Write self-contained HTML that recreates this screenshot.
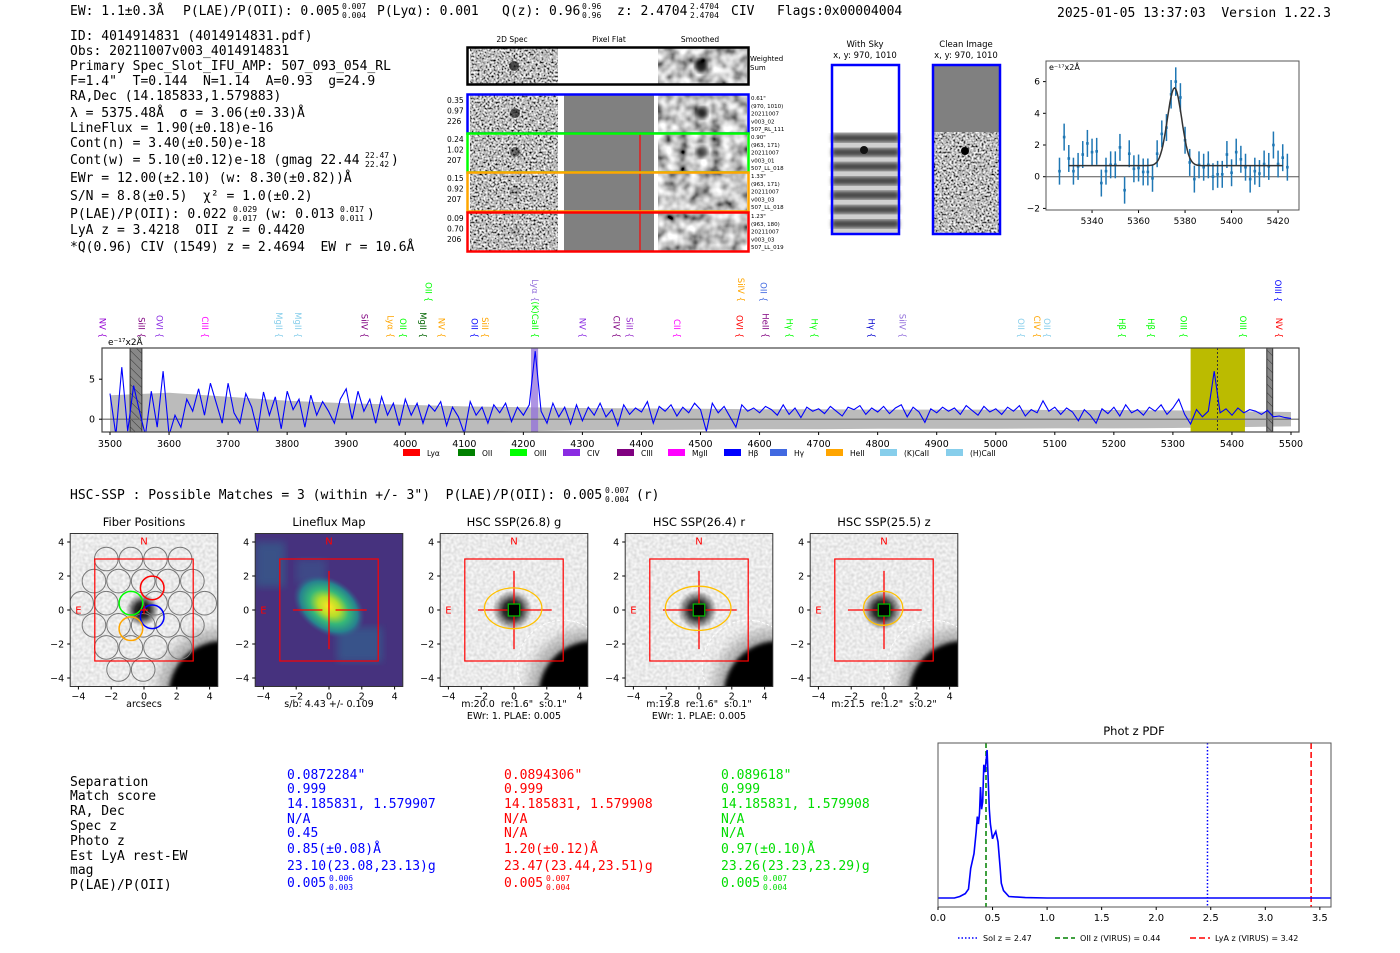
<!DOCTYPE html>
<html><head><meta charset="utf-8">
<style>
html,body{margin:0;padding:0;background:#fff;}
svg{display:block;}
text{white-space:pre;}
.mono{font-family:"DejaVu Sans Mono","Liberation Mono",monospace;font-size:13px;fill:#000;}
.mono[font-size="8"]{font-size:8px;}
.sans{font-family:"DejaVu Sans","Liberation Sans",sans-serif;}
</style></head>
<body>
<svg id="fig" xmlns="http://www.w3.org/2000/svg" xml:space="preserve" width="1400" height="953" viewBox="0 0 1400 953">
<defs>
<filter id="grayNoise" x="0" y="0" width="100%" height="100%">
 <feTurbulence type="fractalNoise" baseFrequency="0.5" numOctaves="2" seed="7" result="t"/>
 <feColorMatrix in="t" type="matrix" values="2.2 0 0 0 -0.6  2.2 0 0 0 -0.6  2.2 0 0 0 -0.6  0 0 0 0 1"/>
</filter>
<filter id="smoothNoise" x="0" y="0" width="100%" height="100%">
 <feTurbulence type="fractalNoise" baseFrequency="0.09" numOctaves="2" seed="11" result="t"/>
 <feColorMatrix in="t" type="matrix" values="1.6 0 0 0 -0.25  1.6 0 0 0 -0.25  1.6 0 0 0 -0.25  0 0 0 0 1"/>
</filter>
<filter id="lightNoise" x="0" y="0" width="100%" height="100%">
 <feTurbulence type="fractalNoise" baseFrequency="0.35" numOctaves="1" seed="5" result="t"/>
 <feColorMatrix in="t" type="matrix" values="0.45 0 0 0 0.6  0.45 0 0 0 0.6  0.45 0 0 0 0.6  0 0 0 0 1"/>
</filter>
<filter id="blur2"><feGaussianBlur stdDeviation="2"/></filter>
<filter id="blur4"><feGaussianBlur stdDeviation="4"/></filter>
<filter id="blur6"><feGaussianBlur stdDeviation="6"/></filter>
<radialGradient id="blob" cx="0.5" cy="0.5" r="0.5">
 <stop offset="0" stop-color="#000" stop-opacity="1"/>
 <stop offset="0.45" stop-color="#000" stop-opacity="0.8"/>
 <stop offset="1" stop-color="#000" stop-opacity="0"/>
</radialGradient>
<radialGradient id="lfblob" cx="0.5" cy="0.5" r="0.5">
 <stop offset="0" stop-color="#fde725"/>
 <stop offset="0.3" stop-color="#b5de2b"/>
 <stop offset="0.55" stop-color="#35b779"/>
 <stop offset="0.8" stop-color="#26828e"/>
 <stop offset="1" stop-color="#3b528b" stop-opacity="0"/>
</radialGradient>
<pattern id="hatch" width="6" height="6" patternUnits="userSpaceOnUse" patternTransform="rotate(-45)">
 <rect width="6" height="6" fill="#888"/><line x1="0" y1="0" x2="0" y2="6" stroke="#333" stroke-width="1"/>
</pattern>
</defs>

<g>
<text class="mono" x="70" y="15">EW: 1.1±0.3Å</text>
<text class="mono" x="183" y="15">P(LAE)/P(OII): 0.005</text>
<text class="mono" x="342" y="9" font-size="8">0.007</text><text class="mono" x="342" y="18" font-size="8">0.004</text>
<text class="mono" x="377" y="15">P(Lyα): 0.001</text>
<text class="mono" x="502" y="15">Q(z): 0.96</text>
<text class="mono" x="582" y="9" font-size="8">0.96</text><text class="mono" x="582" y="18" font-size="8">0.96</text>
<text class="mono" x="617" y="15">z: 2.4704</text>
<text class="mono" x="690" y="9" font-size="8">2.4704</text><text class="mono" x="690" y="18" font-size="8">2.4704</text>
<text class="mono" x="731" y="15">CIV</text>
<text class="mono" x="777" y="15">Flags:0x00004004</text>
<text class="mono" x="1057" y="17">2025-01-05 13:37:03  Version 1.22.3</text>
</g>

<g>
<text class="mono" x="70" y="40">ID: 4014914831 (4014914831.pdf)</text>
<text class="mono" x="70" y="55">Obs: 20211007v003_4014914831</text>
<text class="mono" x="70" y="70">Primary Spec_Slot_IFU_AMP: 507_093_054_RL</text>
<text class="mono" x="70" y="85">F=1.4"  T=0.144  N=1.14  A=0.93  g=24.9</text>
<text class="mono" x="70" y="100">RA,Dec (14.185833,1.579883)</text>
<text class="mono" x="70" y="117">λ = 5375.48Å  σ = 3.06(±0.33)Å</text>
<text class="mono" x="70" y="132">LineFlux = 1.90(±0.18)e-16</text>
<text class="mono" x="70" y="147">Cont(n) = 3.40(±0.50)e-18</text>
<text class="mono" x="70" y="164">Cont(w) = 5.10(±0.12)e-18 (gmag 22.44</text>
<text class="mono" x="365" y="158" font-size="8">22.47</text><text class="mono" x="365" y="167" font-size="8">22.42</text>
<text class="mono" x="391" y="164">)</text>
<text class="mono" x="70" y="182">EWr = 12.00(±2.10) (w: 8.30(±0.82))Å</text>
<text class="mono" x="70" y="200">S/N = 8.8(±0.5)  χ² = 1.0(±0.2)</text>
<text class="mono" x="70" y="218">P(LAE)/P(OII): 0.022</text>
<text class="mono" x="233" y="212" font-size="8">0.029</text><text class="mono" x="233" y="221" font-size="8">0.017</text>
<text class="mono" x="264" y="218">(w: 0.013</text>
<text class="mono" x="340" y="212" font-size="8">0.017</text><text class="mono" x="340" y="221" font-size="8">0.011</text>
<text class="mono" x="367" y="218">)</text>
<text class="mono" x="70" y="234">LyA z = 3.4218  OII z = 0.4420</text>
<text class="mono" x="70" y="251">*Q(0.96) CIV (1549) z = 2.4694  EW r = 10.6Å</text>
</g>

<g class="sans">
<text x="512" y="42" font-size="7.5" text-anchor="middle">2D Spec</text>
<text x="609" y="42" font-size="7.5" text-anchor="middle">Pixel Flat</text>
<text x="700" y="42" font-size="7.5" text-anchor="middle">Smoothed</text>
<g>
 <rect x="470" y="48" width="88" height="36" filter="url(#grayNoise)"/>
 <ellipse cx="514" cy="66" rx="5" ry="5" fill="#111" opacity="0.7"/>
 <rect x="558" y="48" width="99" height="36" fill="#fff"/>
 <rect x="658" y="48" width="89" height="36" filter="url(#smoothNoise)"/>
 <ellipse cx="701" cy="66" rx="6" ry="7" fill="#000" opacity="0.85" filter="url(#blur2)"/>
 <rect x="467.5" y="47.5" width="281" height="37" fill="none" stroke="#000" stroke-width="2.5"/>
 <text x="750" y="61" font-size="7">Weighted</text><text x="750" y="70" font-size="7">Sum</text>
</g>
<g id="rows2d"></g>
</g>

<g class="sans">
<text x="865" y="47" font-size="8.5" text-anchor="middle">With Sky</text>
<text x="865" y="58" font-size="8.5" text-anchor="middle">x, y: 970, 1010</text>
<rect x="832" y="65" width="67" height="169" fill="#fff"/>
<g id="skystripes"></g>
<ellipse cx="864" cy="150" rx="4" ry="4" fill="#111"/>
<rect x="832" y="65" width="67" height="169" fill="none" stroke="#0000ff" stroke-width="2.5"/>
</g>
<g class="sans">
<text x="966" y="47" font-size="8.5" text-anchor="middle">Clean Image</text>
<text x="966" y="58" font-size="8.5" text-anchor="middle">x, y: 970, 1010</text>
<rect x="933" y="65" width="67" height="67" fill="#808080"/>
<rect x="933" y="132" width="67" height="102" filter="url(#grayNoise)"/>
<ellipse cx="965" cy="151" rx="4" ry="4" fill="#000"/>
<rect x="933" y="65" width="67" height="169" fill="none" stroke="#0000ff" stroke-width="2.5"/>
</g>

<g id="fitplot"></g>
<g id="specplot"></g>

<text class="mono" x="70" y="499">HSC-SSP : Possible Matches = 3 (within +/- 3")  P(LAE)/P(OII): 0.005</text>
<text class="mono" x="605" y="493" font-size="8">0.007</text><text class="mono" x="605" y="502" font-size="8">0.004</text>
<text class="mono" x="636" y="499">(r)</text>

<g id="cutouts"></g>

<g>
<g class="mono">
<text x="70" y="786">Separation</text>
<text x="70" y="800">Match score</text>
<text x="70" y="815">RA, Dec</text>
<text x="70" y="830">Spec z</text>
<text x="70" y="845">Photo z</text>
<text x="70" y="860">Est LyA rest-EW</text>
<text x="70" y="874">mag</text>
<text x="70" y="889">P(LAE)/P(OII)</text>
</g>
<g class="mono">
<text class="mono" x="287" y="779" style="fill:#0000ff">0.0872284"</text>
<text class="mono" x="287" y="793" style="fill:#0000ff">0.999</text>
<text class="mono" x="287" y="808" style="fill:#0000ff">14.185831, 1.579907</text>
<text class="mono" x="287" y="823" style="fill:#0000ff">N/A</text>
<text class="mono" x="287" y="837" style="fill:#0000ff">0.45</text>
<text class="mono" x="287" y="853" style="fill:#0000ff">0.85(±0.08)Å</text>
<text class="mono" x="287" y="870" style="fill:#0000ff">23.10(23.08,23.13)g</text>
<text class="mono" x="287" y="887" style="fill:#0000ff">0.005</text>
<text class="mono" x="329" y="881" font-size="8" style="fill:#0000ff">0.006</text><text class="mono" x="329" y="890" font-size="8" style="fill:#0000ff">0.003</text>
</g>
<g class="mono">
<text class="mono" x="504" y="779" style="fill:#ff0000">0.0894306"</text>
<text class="mono" x="504" y="793" style="fill:#ff0000">0.999</text>
<text class="mono" x="504" y="808" style="fill:#ff0000">14.185831, 1.579908</text>
<text class="mono" x="504" y="823" style="fill:#ff0000">N/A</text>
<text class="mono" x="504" y="837" style="fill:#ff0000">N/A</text>
<text class="mono" x="504" y="853" style="fill:#ff0000">1.20(±0.12)Å</text>
<text class="mono" x="504" y="870" style="fill:#ff0000">23.47(23.44,23.51)g</text>
<text class="mono" x="504" y="887" style="fill:#ff0000">0.005</text>
<text class="mono" x="546" y="881" font-size="8" style="fill:#ff0000">0.007</text><text class="mono" x="546" y="890" font-size="8" style="fill:#ff0000">0.004</text>
</g>
<g class="mono">
<text class="mono" x="721" y="779" style="fill:#00dd00">0.089618"</text>
<text class="mono" x="721" y="793" style="fill:#00dd00">0.999</text>
<text class="mono" x="721" y="808" style="fill:#00dd00">14.185831, 1.579908</text>
<text class="mono" x="721" y="823" style="fill:#00dd00">N/A</text>
<text class="mono" x="721" y="837" style="fill:#00dd00">N/A</text>
<text class="mono" x="721" y="853" style="fill:#00dd00">0.97(±0.10)Å</text>
<text class="mono" x="721" y="870" style="fill:#00dd00">23.26(23.23,23.29)g</text>
<text class="mono" x="721" y="887" style="fill:#00dd00">0.005</text>
<text class="mono" x="763" y="881" font-size="8" style="fill:#00dd00">0.007</text><text class="mono" x="763" y="890" font-size="8" style="fill:#00dd00">0.004</text>
</g>
</g>

<g id="pdfplot"></g>
</svg>

<script>
const fitWave = [5326,5328,5330,5332,5334,5336,5338,5340,5342,5344,5346,5348,5350,5352,5354,5356,5358,5360,5362,5364,5366,5368,5370,5372,5374,5376,5378,5380,5382,5384,5386,5388,5390,5392,5394,5396,5398,5400,5402,5404,5406,5408,5410,5412,5414,5416,5418,5420,5422,5424];
const fitFlux = [0.35,2.5,1.15,0.35,0.65,1.4,2.1,1.55,1.6,-0.4,0.35,0.75,0.75,1.85,-0.85,1.45,0.5,0.55,0.3,0.3,-0.1,1.45,2.7,3.1,5.2,6.0,5.0,2.3,0.9,-0.15,0.75,0.6,0.75,0.0,0.15,0.15,1.4,0.25,1.55,1.1,0.6,-0.15,0.35,0.2,0.8,0.65,2.0,0.8,1.2,0.6];
const fitErr = [0.85,0.85,0.85,0.85,0.85,0.85,0.85,0.85,0.85,0.85,0.85,0.85,0.85,0.85,0.85,0.85,0.85,0.85,0.85,0.85,0.85,0.85,0.85,0.85,0.9,0.9,0.9,0.85,0.85,0.85,0.85,0.85,0.85,0.85,0.85,0.85,0.85,0.85,0.85,0.85,0.85,0.85,0.85,0.85,0.85,0.85,0.85,0.85,0.85,0.85];
const fitTicksX = [5340,5360,5380,5400,5420];
const fitTicksY = [-2,0,2,4,6];
const fitModel = {center:5375.48, sigma:3.06, amp:4.9, base:0.7, start:5330, end:5422};

const specStart = 3500, specStep = 10;
const specFlux = [3.2,-2,6.5,-1.5,4.2,1,-2,3.5,-1,6,
 -2,0.5,-1,2.5,1,3.8,0.5,4.5,2,-0.5,
 4.5,0.8,-0.5,3.2,1.5,-1.5,3.4,0.5,2.8,-1.2,
 3.5,1.2,2.5,-1,3,0.5,2.2,1,-0.5,2.5,
 3.8,0,3.5,1,2.5,-0.5,2.8,0.5,2,-0.8,
 2.5,0.5,2,-0.5,1.8,1,2.2,-0.8,1.5,0.3,
 -1.8,2.2,0.5,1.5,-0.5,1.8,0.8,2,-0.3,1.5,
 0.5,1.8,8.5,1,-0.5,2,0.3,1.5,-0.6,1.8,
 -0.2,1.5,0.5,2,0.3,1.2,-0.8,1.8,0.6,1.4,
 0.9,2.2,-0.5,1.6,1,1.8,0.4,1.5,0.8,2,
 1.2,-1.5,2,0.8,1.6,0.3,-1,1.8,1,1.4,
 0.8,1.6,1.2,0.5,1.8,0.6,1.4,0.2,1.5,1,
 1.3,0.7,1.6,1,0.4,1.5,1.2,1.7,0.6,1.4,
 0.9,1.6,0.7,1.4,1.8,0.3,1.5,0.9,-0.4,1.3,
 0.8,1.5,1,1.4,0.6,1.7,1.1,0.5,1.6,0.9,
 1.3,0.6,1.5,1,1.7,0.4,1.2,0.8,2.3,1,
 1.5,0.6,1.4,0.9,-0.2,1.2,0.5,-0.5,1.3,0.7,
 1.5,0.4,1.8,0.8,1.2,0.5,1.5,1,1.8,0.6,
 1.4,2.5,0.6,-0.6,1.2,0.3,1,6,0.8,1.3,
 0.5,1.4,0.8,1.2,1,0.6,1.1,0.3,0.4,0.2,
 0.1];
const errWave = [3500,3600,3700,3800,3900,4000,4100,4200,4300,4400,4500,4600,4700,4800,4900,5000,5100,5200,5300,5400,5500];
const errVal = [3.0,3.3,2.8,2.3,2.0,1.8,1.6,1.5,1.4,1.35,1.3,1.25,1.25,1.2,1.2,1.2,1.15,1.15,1.1,1.0,0.9];
const specTicksX = [3500,3600,3700,3800,3900,4000,4100,4200,4300,4400,4500,4600,4700,4800,4900,5000,5100,5200,5300,5400,5500];
const specTicksY = [0,5];
const lineLabels = ["NV","SiII","OVI","CIII","MgII","MgII","SiIV","Lyα","OII","MgII","NV","OII","SiII","(K)CaII","NV","CIV","SiII","CII","OVI","HeII","Hγ","Hγ","Hγ","SiIV","OII","CIV","OII","Hβ","Hβ","OIII","OIII","NV","OII","Lyα","SiIV","OII","OIII"];
const lineWaves = [3487,3553,3584,3661,3786,3818,3931,3975,3996,4030,4061,4117,4135,4220,4300,4358,4380,4460,4566,4610,4651,4693,4790,4842,5043,5070,5087,5214,5263,5318,5419,5480,4039,4220,4569,4607,5478];
const lineRow = [0,0,0,0,0,0,0,0,0,0,0,0,0,0,0,0,0,0,0,0,0,0,0,0,0,0,0,0,0,0,0,0,1,1,1,1,1];
const lineColors = ["#9400d3","#800080","#8a2be2","#ff00ff","#87ceeb","#87ceeb","#800080","#ffa500","#00ff00","#006400","#ffa500","#0000ff","#ffa500","#00ff00","#8a2be2","#800080","#9932cc","#ff00ff","#ff0000","#800080","#00ff00","#00ff00","#0000cd","#9370db","#87ceeb","#ffa500","#87ceeb","#00ff00","#00ff00","#00ff00","#00ff00","#ff0000","#00ff00","#9370db","#ffa500","#4169e1","#0000ff"];
const legendNames = ["Lyα","OII","OIII","CIV","CIII","MgII","Hβ","Hγ","HeII","(K)CaII","(H)CaII"];
const legendColors = ["#ff0000","#008000","#00ff00","#8a2be2","#800080","#ff00ff","#0000ff","#4169e1","#ffa500","#87ceeb","#87ceeb"];

const pdfZ = [0,0.15,0.2,0.25,0.28,0.3,0.33,0.35,0.36,0.37,0.38,0.39,0.4,0.41,0.42,0.43,0.44,0.45,0.46,0.47,0.48,0.5,0.51,0.53,0.55,0.57,0.58,0.6,0.65,0.8,1.0,3.6];
const pdfP = [0,0,0.01,0.03,0.06,0.2,0.3,0.45,0.55,0.5,0.57,0.75,0.6,0.65,0.9,0.85,0.92,1.0,0.8,0.6,0.5,0.4,0.42,0.45,0.38,0.2,0.1,0.05,0.01,0.003,0,0];
const pdfTicks = [0.0,0.5,1.0,1.5,2.0,2.5,3.0,3.5];
const pdfLines = [2.47,0.44,3.42];
const pdfLineNames = ["SoI z = 2.47","OII z (VIRUS) = 0.44","LyA z (VIRUS) = 3.42"];

const NS = "http://www.w3.org/2000/svg";
function mk(parent, tag, attrs, text){
  const e = document.createElementNS(NS, tag);
  for (const k in attrs) e.setAttribute(k, attrs[k]);
  if (text !== undefined) e.textContent = text;
  parent.appendChild(e);
  return e;
}
const SANS = '"DejaVu Sans","Liberation Sans",sans-serif';

(function(){
  const g = document.getElementById('rows2d');
  const rows = [
    {y:95,h:38,c:"#0000ff",n:["0.35","0.97","226"],t:["0.61\"","(970, 1010)","20211007","v003_02","507_RL_111"],dot:1,red:false},
    {y:134,h:38,c:"#00ff00",n:["0.24","1.02","207"],t:["0.90\"","(963, 171)","20211007","v003_01","507_LL_018"],dot:0.8,red:true},
    {y:173,h:38,c:"#ffa500",n:["0.15","0.92","207"],t:["1.33\"","(963, 171)","20211007","v003_03","507_LL_018"],dot:0.3,red:true},
    {y:213,h:38,c:"#ff0000",n:["0.09","0.70","206"],t:["1.23\"","(963, 180)","20211007","v003_03","507_LL_019"],dot:0.2,red:true}
  ];
  rows.forEach((r,i)=>{
    const rg = mk(g,'g',{});
    
    
    mk(rg,'rect',{x:470,y:r.y,width:88,height:r.h,filter:'url(#grayNoise)'});
    mk(rg,'ellipse',{cx:515,cy:r.y+18,rx:5,ry:5,fill:'#000',opacity:0.6*r.dot});
    mk(rg,'rect',{x:558,y:r.y,width:6,height:r.h,fill:'#fff'});
    mk(rg,'rect',{x:564,y:r.y,width:90,height:r.h,fill:'#808080'});
    mk(rg,'rect',{x:654,y:r.y,width:4,height:r.h,fill:'#fff'});
    if (r.red) mk(rg,'line',{x1:640,y1:r.y,x2:640,y2:r.y+r.h,stroke:'#ff0000','stroke-width':1.2});
    mk(rg,'rect',{x:658,y:r.y,width:89,height:r.h,filter:'url(#smoothNoise)'});
    mk(rg,'ellipse',{cx:702,cy:r.y+18,rx:6,ry:6,fill:'#000',opacity:0.85*r.dot,filter:'url(#blur2)'});
    mk(rg,'rect',{x:467.5,y:r.y-0.5,width:281,height:r.h+1,fill:'none',stroke:r.c,'stroke-width':2.5});
    r.n.forEach((s,j)=>mk(rg,'text',{x:447,y:r.y+8+j*10.5,'font-size':7.5,'font-family':SANS},s));
    r.t.forEach((s,j)=>mk(rg,'text',{x:751,y:r.y+5+j*7.8,'font-size':5.5,'font-family':SANS},s));
  });
  const s = document.getElementById('skystripes');
  mk(s,'rect',{x:832,y:132,width:67,height:102,fill:'#d0d0d0'});
  for (let k=0;k<7;k++){
    mk(s,'rect',{x:832,y:134+k*14.3,width:67,height:8,fill:'#444',filter:'url(#blur2)'});
  }
})();

(function(){
  const g = document.getElementById('fitplot');
  const L=1046,R=1299,T=61,B=210;
  const xmin=5320.2,xmax=5429,ymin=-2.1,ymax=7.3;
  const X=v=>L+(v-xmin)/(xmax-xmin)*(R-L);
  const Y=v=>B-(v-ymin)/(ymax-ymin)*(B-T);
  mk(g,'line',{x1:L,x2:R,y1:Y(0),y2:Y(0),stroke:'#555','stroke-width':1});
  fitTicksX.forEach(t=>{
    mk(g,'line',{x1:X(t),x2:X(t),y1:B,y2:B+3,stroke:'#000'});
    mk(g,'text',{x:X(t),y:B+14,'font-size':9,'text-anchor':'middle','font-family':SANS},t);
  });
  fitTicksY.forEach(t=>{
    mk(g,'line',{x1:L-3,x2:L,y1:Y(t),y2:Y(t),stroke:'#000'});
    mk(g,'text',{x:L-6,y:Y(t)+3,'font-size':9,'text-anchor':'end','font-family':SANS},t<0?'−'+(-t):t);
  });
  fitWave.forEach((w,i)=>{
    const e1 = mk(g,'line',{x1:X(w),x2:X(w),y1:Y(fitFlux[i]-fitErr[i]),y2:Y(fitFlux[i]+fitErr[i]),stroke:'#1f77b4','stroke-width':1.5});
    
    
    const p = mk(g,'rect',{x:X(w)-1.3,y:Y(fitFlux[i])-1.3,width:2.6,height:2.6,fill:'#1f77b4'});
    
    
  });
  let d='';
  for (let w=fitModel.start; w<=fitModel.end; w+=0.5){
    const v=fitModel.base+fitModel.amp*Math.exp(-0.5*Math.pow((w-fitModel.center)/fitModel.sigma,2));
    d+=(d?'L':'M')+X(w).toFixed(1)+','+Y(v).toFixed(1);
  }
  const m = mk(g,'path',{d:d,fill:'none',stroke:'#333','stroke-width':1.5});
  
  
  mk(g,'rect',{x:L,y:T,width:R-L,height:B-T,fill:'none',stroke:'#555','stroke-width':1});
  const u = mk(g,'text',{x:L+3,y:T+9,'font-size':8,'font-family':SANS},'e⁻¹⁷x2Å');
  
  
})();

(function(){
  const g = document.getElementById('specplot');
  const L=102,R=1299,T=348,B=432;
  const xmin=3500-(110-102)/0.5905,xmax=3500+(1299-110)/0.5905;
  const ymin=-1.6,ymax=8.9;
  const X=v=>L+(v-xmin)/(xmax-xmin)*(R-L);
  const Y=v=>B-(v-ymin)/(ymax-ymin)*(B-T);
  const clip = mk(g,'clipPath',{id:'specclip'});
  mk(clip,'rect',{x:L,y:T,width:R-L,height:B-T});
  const cg = mk(g,'g',{'clip-path':'url(#specclip)'});
  let up='',dn='';
  errWave.forEach((w,i)=>{up+=(i?'L':'M')+X(w).toFixed(1)+','+Y(errVal[i]).toFixed(1);});
  for (let i=errWave.length-1;i>=0;i--) dn+='L'+X(errWave[i]).toFixed(1)+','+Y(-errVal[i]).toFixed(1);
  const band = mk(cg,'path',{d:up+dn+'Z',fill:'#bbbbbb'});
  
  
  const hl1 = mk(cg,'rect',{x:X(4213),y:T,width:X(4225)-X(4213),height:B-T,fill:'#9370db',opacity:0.75});
  
  
  const hl2 = mk(cg,'rect',{x:X(5330),y:T,width:X(5422)-X(5330),height:B-T,fill:'#bbbb00'});
  
  
  const sk1 = mk(cg,'rect',{x:X(3534),y:T,width:X(3554)-X(3534),height:B-T,fill:'url(#hatch)',stroke:'#333'});
  
  
  const sk2 = mk(cg,'rect',{x:X(5459),y:T,width:X(5469)-X(5459),height:B-T,fill:'url(#hatch)',stroke:'#333'});
  
  
  mk(cg,'line',{x1:L,x2:R,y1:Y(0),y2:Y(0),stroke:'#666','stroke-width':1.2});
  mk(cg,'line',{x1:X(5375.5),x2:X(5375.5),y1:T,y2:B,stroke:'#333','stroke-dasharray':'2,2'});
  let d='';
  specFlux.forEach((v,i)=>{d+=(i?'L':'M')+X(specStart+i*specStep).toFixed(1)+','+Y(v).toFixed(1);});
  const ln = mk(cg,'path',{d:d,fill:'none',stroke:'#0000ff','stroke-width':1.1});
  
  
  mk(g,'rect',{x:L,y:T,width:R-L,height:B-T,fill:'none',stroke:'#444','stroke-width':1.2});
  specTicksX.forEach(t=>{
    mk(g,'line',{x1:X(t),x2:X(t),y1:B,y2:B+3,stroke:'#000'});
    mk(g,'text',{x:X(t),y:B+15,'font-size':9.5,'text-anchor':'middle','font-family':SANS},t);
  });
  specTicksY.forEach(t=>{
    mk(g,'line',{x1:L-3,x2:L,y1:Y(t),y2:Y(t),stroke:'#000'});
    mk(g,'text',{x:L-7,y:Y(t)+3.5,'font-size':9.5,'text-anchor':'end','font-family':SANS},t);
  });
  const u = mk(g,'text',{x:L+6,y:T-3,'font-size':9,'font-family':SANS},'e⁻¹⁷x2Å');
  
  
  lineLabels.forEach((lab,i)=>{
    const x = X(lineWaves[i]);
    const yb = lineRow[i] ? 302 : 338;
    const t = mk(g,'text',{x:0,y:0,'font-size':8.5,fill:lineColors[i],'font-family':SANS,'text-anchor':'end',transform:`translate(${x-3},${yb}) rotate(90)`},lab+' {');
    
    
  });
  const lx0=403, dx=[0,55,107,160,214,265,321,367,423,477,543];
  legendNames.forEach((n,i)=>{
    const le = mk(g,'g',{});
    
    
    mk(le,'rect',{x:lx0+dx[i],y:449,width:17,height:7,fill:legendColors[i]});
    mk(le,'text',{x:lx0+dx[i]+24,y:456,'font-size':7.5,'font-family':SANS},n);
  });
})();

(function(){
  const g = document.getElementById('cutouts');
  const titles=["Fiber Positions","Lineflux Map","HSC SSP(26.8) g","HSC SSP(26.4) r","HSC SSP(25.5) z"];
  const sub1=["arcsecs","s/b: 4.43 +/- 0.109",'m:20.0  re:1.6"  s:0.1"','m:19.8  re:1.6"  s:0.1"','m:21.5  re:1.2"  s:0.2"'];
  const sub2=["","","EWr: 1. PLAE: 0.005","EWr: 1. PLAE: 0.005",""];
  const ell=[null,null,[1.75,1.2],[2.0,1.3],[1.2,1.0]];
  for (let p=0;p<5;p++){
    const cx=144+185*p, cy=610, sx=16.4, sy=17;
    const X=v=>cx+v*sx, Y=v=>cy-v*sy;
    const pg = mk(g,'g',{});
    
    
    const bx=X(-4.5), by=Y(4.5), bw=9*sx, bh=9*sy;
    const cid='cclip'+p;
    const cp = mk(pg,'clipPath',{id:cid}); mk(cp,'rect',{x:bx,y:by,width:bw,height:bh});
    const ig = mk(pg,'g',{'clip-path':`url(#${cid})`});
    if (p===1){
      mk(ig,'rect',{x:bx,y:by,width:bw,height:bh,fill:'#46327e'});
      mk(ig,'rect',{x:X(-4.5),y:Y(4),width:30,height:45,fill:'#31688e',opacity:0.6,filter:'url(#blur4)'});
      mk(ig,'rect',{x:X(0.5),y:Y(-1),width:45,height:35,fill:'#365c8d',opacity:0.8,filter:'url(#blur4)'});
      mk(ig,'rect',{x:X(-2),y:Y(3),width:30,height:25,fill:'#3b528b',opacity:0.7,filter:'url(#blur4)'});
      mk(ig,'ellipse',{cx:X(0),cy:Y(0.2),rx:sx*2.4,ry:sy*1.6,fill:'url(#lfblob)',transform:`rotate(35 ${X(0)} ${Y(0.2)})`});
    } else {
      mk(ig,'rect',{x:bx,y:by,width:bw,height:bh,filter:'url(#lightNoise)'});
      mk(ig,'circle',{cx:X(4.6),cy:Y(-4.8),r:sx*3.8,fill:'#777',opacity:0.5,filter:'url(#blur6)'});
      mk(ig,'circle',{cx:X(4.8),cy:Y(-5.0),r:sx*3.3,fill:'#000',filter:'url(#blur2)'});
      if (p>=2) mk(ig,'circle',{cx:X(3),cy:Y(-3.3),r:sx*2.8,fill:'none',stroke:'#fff','stroke-dasharray':'3,2','stroke-width':1});
      mk(ig,'circle',{cx:X(-0.1),cy:Y(0),r:sx*(p===0?1.0:1.2),fill:'url(#blob)'});
    }
    if (p===0){
      for (let j=-3;j<=3;j++) for (let i=-4;i<=4;i++){
        const fx=-0.8+i*1.5+((j%2)?0.75:0), fy=0.4+j*1.3;
        if (Math.hypot(fx+0.1,fy-0.1)>3.9) continue;
        mk(ig,'circle',{cx:X(fx),cy:Y(fy),r:sx*0.72,fill:'none',stroke:'#777','stroke-width':1});
      }
      [[-0.8,0.4,'#00ff00'],[0.5,1.3,'#ff0000'],[0.5,-0.4,'#0000ff'],[-0.8,-1.1,'#ffa500']].forEach(f=>{
        const c=mk(ig,'circle',{cx:X(f[0]),cy:Y(f[1]),r:sx*0.72,fill:'none',stroke:f[2],'stroke-width':1.5});
        
        
      });
      mk(ig,'path',{d:`M${X(-0.25)},${Y(0)}H${X(0.25)}M${X(0)},${Y(0.25)}V${Y(-0.25)}`,stroke:'#ff0000','stroke-width':1.2});
    }
    mk(ig,'rect',{x:X(-3),y:Y(3),width:6*sx,height:6*sy,fill:'none',stroke:'#ff0000','stroke-width':1.2});
    if (p>=1){
      mk(ig,'path',{d:`M${X(-2.2)},${Y(0)}H${X(-0.4)}M${X(0.4)},${Y(0)}H${X(2.3)}M${X(0)},${Y(2.3)}V${Y(-2.3)}`,stroke:'#ff0000','stroke-width':1.3});
    }
    if (p>=2){
      const e=ell[p];
      mk(ig,'ellipse',{cx:X(-0.05),cy:Y(0.1),rx:e[0]*sx,ry:e[1]*sy,fill:'none',stroke:'#ffc000','stroke-width':1.3});
      mk(ig,'rect',{x:X(-0.35),y:Y(0.35),width:0.7*sx,height:0.7*sy,fill:'#000',stroke:'#00c000','stroke-width':1.2});
    }
    mk(ig,'text',{x:X(0),y:Y(3.85),'font-size':10,fill:'#ff0000','text-anchor':'middle','font-family':SANS},'N');
    mk(ig,'text',{x:X(-4),y:Y(-0.2),'font-size':10,fill:'#ff0000','text-anchor':'middle','font-family':SANS},'E');
    mk(pg,'rect',{x:bx,y:by,width:bw,height:bh,fill:'none',stroke:'#333','stroke-width':1});
    [-4,-2,0,2,4].forEach(t=>{
      const lab = t<0?'−'+(-t):''+t;
      mk(pg,'line',{x1:X(t),x2:X(t),y1:by+bh,y2:by+bh+3,stroke:'#000'});
      mk(pg,'text',{x:X(t),y:by+bh+13,'font-size':9.5,'text-anchor':'middle','font-family':SANS},lab);
      mk(pg,'line',{x1:bx-3,x2:bx,y1:Y(t),y2:Y(t),stroke:'#000'});
      mk(pg,'text',{x:bx-6,y:Y(t)+3.5,'font-size':9.5,'text-anchor':'end','font-family':SANS},lab);
    });
    const tt = mk(pg,'text',{x:cx,y:526,'font-size':11.5,'text-anchor':'middle','font-family':SANS},titles[p]);
    
    
    mk(pg,'text',{x:cx,y:707,'font-size':9.5,'text-anchor':'middle','font-family':SANS},sub1[p]);
    if (sub2[p]) mk(pg,'text',{x:cx,y:719,'font-size':9.5,'text-anchor':'middle','font-family':SANS},sub2[p]);
  }
})();

(function(){
  const g = document.getElementById('pdfplot');
  const L=938,R=1331,T=743,B=907;
  const X=v=>L+v*109.1;
  const Y=v=>898-v*148;
  mk(g,'text',{x:1134,y:735,'font-size':11.5,'text-anchor':'middle','font-family':SANS},'Phot z PDF');
  let d='';
  pdfZ.forEach((z,i)=>{d+=(i?'L':'M')+X(z).toFixed(1)+','+Y(pdfP[i]).toFixed(1);});
  const styles=[{c:'#0000ff',da:'1.5,2'},{c:'#008000',da:'5,3'},{c:'#ff0000',da:'6,3'}];
  pdfLines.forEach((z,i)=>{
    const l = mk(g,'line',{x1:X(z),x2:X(z),y1:T,y2:B,stroke:styles[i].c,'stroke-width':1.5,'stroke-dasharray':styles[i].da});
    
    
  });
  const c = mk(g,'path',{d:d,fill:'none',stroke:'#0000ff','stroke-width':1.6});
  
  
  mk(g,'rect',{x:L,y:T,width:R-L,height:B-T,fill:'none',stroke:'#555','stroke-width':1});
  pdfTicks.forEach(t=>{
    mk(g,'line',{x1:X(t),x2:X(t),y1:B,y2:B+3,stroke:'#000'});
    mk(g,'text',{x:X(t),y:B+14,'font-size':10,'text-anchor':'middle','font-family':SANS},t.toFixed(1));
  });
  const lx=[958,1055,1190];
  pdfLineNames.forEach((n,i)=>{
    const le = mk(g,'g',{});
    
    
    mk(le,'line',{x1:lx[i],x2:lx[i]+20,y1:938,y2:938,stroke:styles[i].c,'stroke-width':1.5,'stroke-dasharray':styles[i].da});
    mk(le,'text',{x:lx[i]+25,y:941,'font-size':8,'font-family':SANS},n);
  });
})();
</script>
</body></html>
